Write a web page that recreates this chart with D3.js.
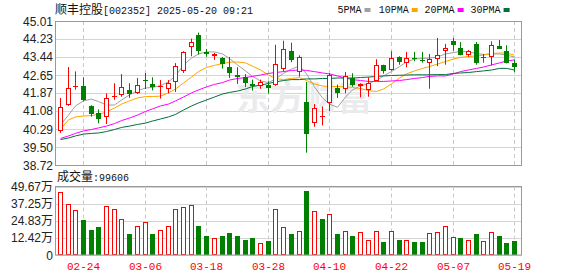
<!DOCTYPE html>
<html>
<head>
<meta charset="utf-8">
<script src="https://cdn.jsdelivr.net/npm/d3@7"></script>
<style>
  body { margin: 0; background: #fff; }
  svg { display: block; }
</style>
</head>
<body>
<div id="plot"></div>
<script>
// trading days shown on the chart
var dates = ["02-19","02-20","02-21","02-24","02-25","02-26","02-27","02-28","03-03","03-04",
  "03-05","03-06","03-07","03-10","03-11","03-12","03-13","03-14","03-17","03-18",
  "03-19","03-20","03-21","03-24","03-25","03-26","03-27","03-28","03-31","04-01",
  "04-02","04-03","04-07","04-08","04-09","04-10","04-11","04-14","04-15","04-16",
  "04-17","04-18","04-21","04-22","04-23","04-24","04-25","04-28","04-29","04-30",
  "05-06","05-07","05-08","05-09","05-12","05-13","05-14","05-15","05-16","05-19"];

var open = [40.19,41.33,42.14,42.17,41.28,41.00,40.80,41.69,41.76,41.99,
  41.88,42.45,42.26,42.13,42.03,42.35,42.84,43.86,44.39,43.66,
  43.47,43.39,43.00,42.64,42.58,42.26,42.16,42.23,42.23,42.93,
  43.69,42.79,41.46,40.54,40.82,41.43,42.08,42.03,42.52,42.16,
  42.01,42.40,43.07,42.87,43.42,43.16,43.39,43.29,43.16,43.36,
  43.71,44.15,43.83,43.54,44.01,43.45,43.42,43.92,43.69,43.16];
var high = [41.65,43.00,42.81,42.55,41.33,41.15,41.85,42.29,42.69,42.29,
  42.52,42.74,42.55,42.43,42.43,43.17,43.69,44.24,44.50,43.79,
  43.62,43.44,43.44,42.99,42.69,42.45,42.45,42.38,43.97,44.15,
  44.06,43.51,42.35,41.38,41.27,42.73,42.23,42.78,42.73,42.29,
  42.55,43.34,43.10,43.69,43.47,43.66,43.66,43.66,43.57,44.27,
  44.01,44.27,44.09,43.74,44.09,43.57,44.12,44.18,43.95,43.31];
var low = [40.12,41.30,42.01,41.50,40.83,40.54,40.51,41.57,41.70,41.65,
  41.82,42.04,41.98,41.62,41.85,41.91,42.74,43.47,43.54,43.45,
  43.31,42.93,42.52,42.26,42.13,41.97,42.05,41.85,42.18,42.81,
  43.21,42.58,39.26,40.39,40.45,41.07,41.65,41.85,42.14,41.68,
  41.70,42.38,42.71,42.84,43.10,42.99,43.25,43.19,42.05,43.04,
  43.10,43.71,43.51,43.45,43.10,43.19,43.07,43.80,43.16,42.78];
var close = [41.24,42.07,42.18,41.57,40.95,40.74,41.63,41.73,42.11,41.82,
  42.20,42.40,42.13,42.16,42.32,43.03,43.66,44.09,43.69,43.56,
  43.56,43.13,42.75,42.55,42.31,42.18,42.33,42.07,43.13,43.77,
  43.32,43.42,40.09,41.20,40.85,42.66,41.88,42.62,42.22,42.25,
  42.29,43.07,42.84,43.38,43.22,43.39,43.34,43.25,43.34,43.51,
  43.83,43.97,43.54,43.69,43.19,43.39,43.97,43.80,43.19,43.01];

// volume in 手
var volume = [454000,369000,323000,252000,179000,201000,352000,337000,264000,150000,
  213000,237000,150000,184000,213000,330000,345000,359000,208000,135000,
  121000,135000,157000,140000,106000,121000,84000,99000,337000,206000,
  150000,177000,464000,316000,259000,296000,150000,177000,135000,164000,
  111000,177000,91000,172000,106000,106000,91000,91000,157000,164000,
  213000,133000,121000,106000,150000,99000,164000,135000,84000,99606];

// moving averages as drawn
var ma5 = [40.47,40.90,41.30,41.52,41.60,41.49,41.34,41.34,41.56,41.78,
  41.97,42.08,42.11,42.19,42.35,42.61,43.09,43.39,43.57,43.66,
  43.66,43.57,43.37,43.09,42.83,42.59,42.39,42.32,42.48,42.72,
  42.91,43.04,42.70,42.13,41.65,41.38,41.24,41.69,42.00,42.17,
  42.28,42.41,42.61,42.80,43.02,43.22,43.35,43.37,43.39,43.44,
  43.57,43.63,43.68,43.66,43.59,43.55,43.57,43.57,43.52,43.44];
var ma10 = [40.29,40.69,40.82,40.86,40.88,40.93,41.04,41.21,41.38,41.52,
  41.65,41.71,41.71,41.73,41.87,42.04,42.30,42.56,42.80,42.98,
  43.07,43.15,43.21,43.22,43.18,43.04,42.87,42.65,42.50,42.45,
  42.50,42.54,42.41,42.26,42.17,42.15,42.15,42.13,42.11,42.06,
  41.97,41.93,42.04,42.26,42.52,42.70,42.83,42.94,43.02,43.13,
  43.24,43.35,43.42,43.46,43.48,43.52,43.59,43.61,43.61,43.52];
var ma20 = [39.88,39.99,40.10,40.21,40.27,40.34,40.42,40.53,40.66,40.77,
  40.90,41.06,41.17,41.30,41.38,41.52,41.69,41.87,42.00,42.13,
  42.24,42.32,42.43,42.50,42.54,42.59,42.65,42.72,42.76,42.80,
  42.85,42.87,42.85,42.80,42.74,42.70,42.61,42.52,42.45,42.41,
  42.37,42.37,42.37,42.39,42.41,42.45,42.50,42.54,42.59,42.61,
  42.61,42.70,42.80,42.87,42.94,43.00,43.09,43.18,43.26,43.31];
var ma30 = [39.83,39.90,39.99,40.07,40.10,40.12,40.18,40.27,40.36,40.42,
  40.49,40.55,40.64,40.73,40.82,40.93,41.12,41.30,41.43,41.56,
  41.69,41.82,41.89,41.95,42.04,42.15,42.21,42.28,42.35,42.41,
  42.45,42.45,42.48,42.48,42.50,42.50,42.52,42.52,42.52,42.54,
  42.56,42.59,42.61,42.63,42.64,42.65,42.66,42.66,42.66,42.67,
  42.67,42.72,42.74,42.76,42.80,42.83,42.87,42.94,42.94,42.87];

var priceTicks = [45.01,44.23,43.44,42.65,41.87,41.08,40.29,39.50,38.72];
var volTicks = [0,124200,248300,372500,496700];
var volTickLabels = ["0","12.42万","24.83万","37.25万","49.67万"];
var dateTicks = ["02-24","03-06","03-18","03-28","04-10","04-22","05-07","05-19"];

var maNames = ["5PMA","10PMA","20PMA","30PMA"];

// layout
var width = 578, height = 276;
var left = 55.5, right = 521.5;
var pTop = 21, pBottom = 165;
var vTop = 186.5, vBottom = 255;

var RED = "#ff0000", GREEN = "#008000";
var maColors = ["#a0a0a0", "#ffa500", "#ff00ff", "#00703c"];
var gridColor = "#d4d4d4", frameColor = "#999999";

var svg = d3.select("#plot").append("svg")
  .attr("width", width)
  .attr("height", height);

var x = d3.scaleBand().domain(dates).range([56.5, 518.5]);
var y = d3.scaleLinear().domain([38.72, 45.01]).range([pBottom, pTop]);
var yv = d3.scaleLinear().domain([0, 496700]).range([vBottom, vTop]);

// pixel column of each bar
function col(i) { return Math.floor(x(dates[i]) + x.bandwidth() / 2); }
var idx = d3.range(dates.length);

// title
var title = svg.append("text").attr("x", 55).attr("y", 14).attr("fill", "#111");
title.append("tspan").attr("font-family", "Noto Sans CJK SC").attr("font-size", 12).text("顺丰控股");
title.append("tspan").attr("font-family", "Liberation Mono").attr("font-size", 10)
  .text("[002352] 2025-05-20 09:21");

// legend
var legX = [337.5, 378.7, 424.6, 470.6];
maNames.forEach(function (name, k) {
  svg.append("text")
    .attr("x", legX[k]).attr("y", 13)
    .attr("font-family", "Liberation Mono").attr("font-size", 10)
    .attr("fill", "#111")
    .text(name);
  svg.append("rect")
    .attr("x", legX[k] + name.length * 6 + 3).attr("y", 8)
    .attr("width", 6).attr("height", 4)
    .attr("fill", maColors[k]);
});

// price grid
svg.append("g").selectAll("line")
  .data(priceTicks)
  .join("line")
  .attr("x1", left).attr("x2", right)
  .attr("y1", function (d) { return Math.round(y(d)) + 0.5; })
  .attr("y2", function (d) { return Math.round(y(d)) + 0.5; })
  .attr("stroke", gridColor);

svg.append("g").selectAll("text")
  .data(priceTicks)
  .join("text")
  .attr("x", 53)
  .attr("y", function (d) { return y(d) + 4.5; })
  .attr("text-anchor", "end")
  .attr("font-family", "Liberation Sans").attr("font-size", 12)
  .attr("fill", "#222")
  .text(function (d) { return d.toFixed(2); });

// vertical dashed lines, both panels
var tickIdx = dateTicks.map(function (d) { return dates.indexOf(d); });
[[pTop, pBottom], [vTop, vBottom]].forEach(function (p) {
  svg.append("g").selectAll("line")
    .data(tickIdx)
    .join("line")
    .attr("x1", function (i) { return col(i) + 0.5; })
    .attr("x2", function (i) { return col(i) + 0.5; })
    .attr("y1", p[0]).attr("y2", p[1])
    .attr("stroke", "#c8c8c8")
    .attr("stroke-dasharray", "4,3");
});

// watermark
svg.append("text")
  .attr("x", 236).attr("y", 110)
  .attr("font-family", "Noto Sans CJK SC").attr("font-size", 34).attr("font-weight", "bold")
  .attr("fill", "#ebebed")
  .text("东方财富");

// moving average lines
[ma5, ma10, ma20, ma30].forEach(function (ma, k) {
  svg.append("path")
    .datum(ma)
    .attr("fill", "none")
    .attr("stroke", maColors[k])
    .attr("stroke-width", 1)
    .attr("d", d3.line()
      .x(function (d, i) { return col(i) + 0.5; })
      .y(function (d) { return y(d); }));
});

// candles
var candles = svg.append("g").selectAll("g")
  .data(idx)
  .join("g");

candles.append("line")
  .attr("x1", function (i) { return col(i) + 0.5; })
  .attr("x2", function (i) { return col(i) + 0.5; })
  .attr("y1", function (i) { return y(high[i]); })
  .attr("y2", function (i) { return y(low[i]); })
  .attr("stroke", function (i) { return close[i] >= open[i] ? RED : GREEN; });

candles.each(function (i) {
  var g = d3.select(this);
  var top = Math.round(y(Math.max(open[i], close[i])));
  var bot = Math.round(y(Math.min(open[i], close[i])));
  var c = col(i);
  if (close[i] >= open[i]) {
    if (bot - top < 2) {
      g.append("line").attr("x1", c - 2).attr("x2", c + 3)
        .attr("y1", top + 0.5).attr("y2", top + 0.5).attr("stroke", RED);
    } else {
      g.append("rect").attr("x", c - 1.5).attr("y", top + 0.5)
        .attr("width", 4).attr("height", bot - top - 1)
        .attr("fill", "#fff").attr("stroke", RED);
    }
  } else {
    g.append("rect").attr("x", c - 2).attr("y", top)
      .attr("width", 5).attr("height", Math.max(bot - top, 1))
      .attr("fill", GREEN);
  }
});

// price frame
svg.append("rect")
  .attr("x", left).attr("y", pTop + 0.5)
  .attr("width", right - left).attr("height", pBottom - pTop)
  .attr("fill", "none").attr("stroke", frameColor);

// volume panel
svg.append("text")
  .attr("x", 57).attr("y", 181)
  .attr("fill", "#111")
  .call(function (t) {
    t.append("tspan").attr("font-family", "Noto Sans CJK SC").attr("font-size", 12).text("成交量");
    t.append("tspan").attr("font-family", "Liberation Mono").attr("font-size", 10)
      .text(":" + volume[volume.length - 1]);
  });

svg.append("g").selectAll("line")
  .data(volTicks)
  .join("line")
  .attr("x1", left).attr("x2", right)
  .attr("y1", function (d) { return Math.round(yv(d)) + 0.5; })
  .attr("y2", function (d) { return Math.round(yv(d)) + 0.5; })
  .attr("stroke", gridColor);

svg.append("g").selectAll("text")
  .data(volTicks)
  .join("text")
  .attr("x", 53)
  .attr("y", function (d) { return yv(d) + 4.5; })
  .attr("text-anchor", "end")
  .attr("font-family", "Liberation Sans, Noto Sans CJK SC").attr("font-size", 12)
  .attr("fill", "#222")
  .text(function (d, k) { return volTickLabels[k]; });

// volume colour follows close vs previous close
function volUp(i) { return i === 0 ? close[i] >= open[i] : close[i] >= close[i - 1]; }

svg.append("g").selectAll("rect")
  .data(idx)
  .join("rect")
  .attr("x", function (i) { return volUp(i) ? col(i) - 1.5 : col(i) - 2; })
  .attr("y", function (i) { return Math.round(yv(volume[i])) + (volUp(i) ? 0.5 : 0); })
  .attr("width", function (i) { return volUp(i) ? 4 : 5; })
  .attr("height", function (i) {
    var h = Math.round(vBottom) - Math.round(yv(volume[i]));
    return volUp(i) ? h - 1 : h;
  })
  .attr("fill", function (i) { return volUp(i) ? "#fff" : GREEN; })
  .attr("stroke", function (i) { return volUp(i) ? RED : "none"; });

svg.append("rect")
  .attr("x", left).attr("y", vTop)
  .attr("width", right - left).attr("height", vBottom - vTop)
  .attr("fill", "none").attr("stroke", frameColor);

// date labels
svg.append("g").selectAll("text")
  .data(tickIdx)
  .join("text")
  .attr("x", function (i) { return col(i) + 0.5; })
  .attr("y", 270)
  .attr("text-anchor", "middle")
  .attr("font-family", "Liberation Mono").attr("font-size", 11)
  .attr("fill", RED)
  .text(function (i) { return dates[i]; });
</script>
</body>
</html>
